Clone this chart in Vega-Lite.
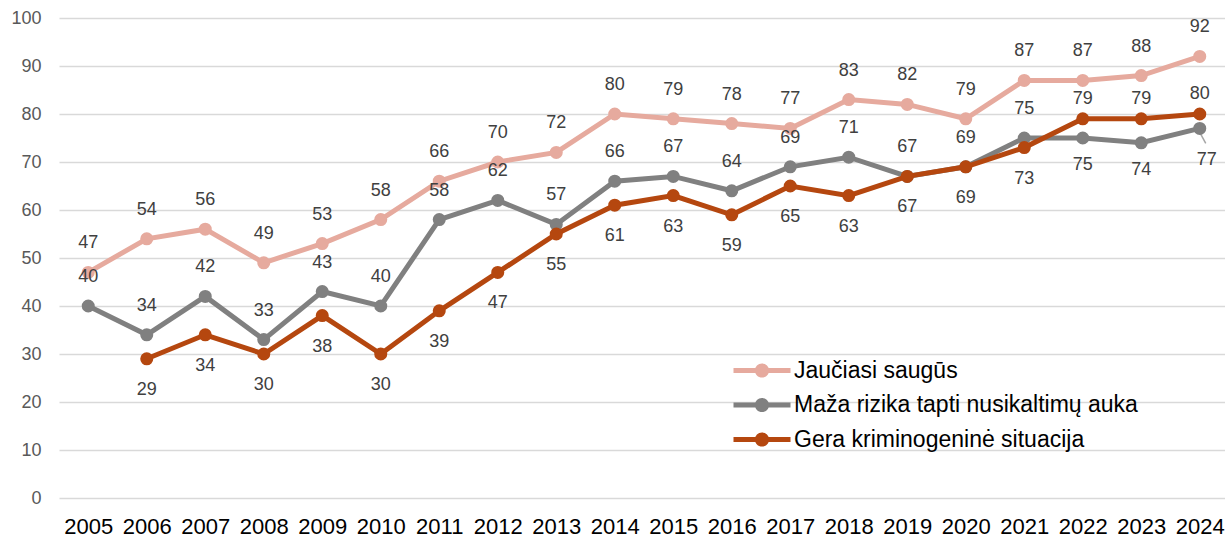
{
  "$schema": "https://vega.github.io/schema/vega-lite/v6.json",
  "width": 1170,
  "height": 480,
  "autosize": "none",
  "padding": {"left": 59, "top": 18, "right": 0, "bottom": 39},
  "background": "white",
  "config": {
    "view": {"stroke": null},
    "font": "Liberation Sans",
    "axis": {"labelFont": "Liberation Sans", "title": null},
    "legend": {"labelFont": "Liberation Sans"}
  },
  "data": {
    "values": [
      {"year": 2005, "series": "Jaučiasi saugūs", "value": 47},
      {"year": 2006, "series": "Jaučiasi saugūs", "value": 54},
      {"year": 2007, "series": "Jaučiasi saugūs", "value": 56},
      {"year": 2008, "series": "Jaučiasi saugūs", "value": 49},
      {"year": 2009, "series": "Jaučiasi saugūs", "value": 53},
      {"year": 2010, "series": "Jaučiasi saugūs", "value": 58},
      {"year": 2011, "series": "Jaučiasi saugūs", "value": 66},
      {"year": 2012, "series": "Jaučiasi saugūs", "value": 70},
      {"year": 2013, "series": "Jaučiasi saugūs", "value": 72},
      {"year": 2014, "series": "Jaučiasi saugūs", "value": 80},
      {"year": 2015, "series": "Jaučiasi saugūs", "value": 79},
      {"year": 2016, "series": "Jaučiasi saugūs", "value": 78},
      {"year": 2017, "series": "Jaučiasi saugūs", "value": 77},
      {"year": 2018, "series": "Jaučiasi saugūs", "value": 83},
      {"year": 2019, "series": "Jaučiasi saugūs", "value": 82},
      {"year": 2020, "series": "Jaučiasi saugūs", "value": 79},
      {"year": 2021, "series": "Jaučiasi saugūs", "value": 87},
      {"year": 2022, "series": "Jaučiasi saugūs", "value": 87},
      {"year": 2023, "series": "Jaučiasi saugūs", "value": 88},
      {"year": 2024, "series": "Jaučiasi saugūs", "value": 92},
      {"year": 2005, "series": "Maža rizika tapti nusikaltimų auka", "value": 40},
      {"year": 2006, "series": "Maža rizika tapti nusikaltimų auka", "value": 34},
      {"year": 2007, "series": "Maža rizika tapti nusikaltimų auka", "value": 42},
      {"year": 2008, "series": "Maža rizika tapti nusikaltimų auka", "value": 33},
      {"year": 2009, "series": "Maža rizika tapti nusikaltimų auka", "value": 43},
      {"year": 2010, "series": "Maža rizika tapti nusikaltimų auka", "value": 40},
      {"year": 2011, "series": "Maža rizika tapti nusikaltimų auka", "value": 58},
      {"year": 2012, "series": "Maža rizika tapti nusikaltimų auka", "value": 62},
      {"year": 2013, "series": "Maža rizika tapti nusikaltimų auka", "value": 57},
      {"year": 2014, "series": "Maža rizika tapti nusikaltimų auka", "value": 66},
      {"year": 2015, "series": "Maža rizika tapti nusikaltimų auka", "value": 67},
      {"year": 2016, "series": "Maža rizika tapti nusikaltimų auka", "value": 64},
      {"year": 2017, "series": "Maža rizika tapti nusikaltimų auka", "value": 69},
      {"year": 2018, "series": "Maža rizika tapti nusikaltimų auka", "value": 71},
      {"year": 2019, "series": "Maža rizika tapti nusikaltimų auka", "value": 67},
      {"year": 2020, "series": "Maža rizika tapti nusikaltimų auka", "value": 69},
      {"year": 2021, "series": "Maža rizika tapti nusikaltimų auka", "value": 75},
      {"year": 2022, "series": "Maža rizika tapti nusikaltimų auka", "value": 75},
      {"year": 2023, "series": "Maža rizika tapti nusikaltimų auka", "value": 74},
      {"year": 2024, "series": "Maža rizika tapti nusikaltimų auka", "value": 77},
      {"year": 2006, "series": "Gera kriminogeninė situacija", "value": 29},
      {"year": 2007, "series": "Gera kriminogeninė situacija", "value": 34},
      {"year": 2008, "series": "Gera kriminogeninė situacija", "value": 30},
      {"year": 2009, "series": "Gera kriminogeninė situacija", "value": 38},
      {"year": 2010, "series": "Gera kriminogeninė situacija", "value": 30},
      {"year": 2011, "series": "Gera kriminogeninė situacija", "value": 39},
      {"year": 2012, "series": "Gera kriminogeninė situacija", "value": 47},
      {"year": 2013, "series": "Gera kriminogeninė situacija", "value": 55},
      {"year": 2014, "series": "Gera kriminogeninė situacija", "value": 61},
      {"year": 2015, "series": "Gera kriminogeninė situacija", "value": 63},
      {"year": 2016, "series": "Gera kriminogeninė situacija", "value": 59},
      {"year": 2017, "series": "Gera kriminogeninė situacija", "value": 65},
      {"year": 2018, "series": "Gera kriminogeninė situacija", "value": 63},
      {"year": 2019, "series": "Gera kriminogeninė situacija", "value": 67},
      {"year": 2020, "series": "Gera kriminogeninė situacija", "value": 69},
      {"year": 2021, "series": "Gera kriminogeninė situacija", "value": 73},
      {"year": 2022, "series": "Gera kriminogeninė situacija", "value": 79},
      {"year": 2023, "series": "Gera kriminogeninė situacija", "value": 79},
      {"year": 2024, "series": "Gera kriminogeninė situacija", "value": 80}
    ]
  },
  "encoding": {
    "x": {
      "field": "year", "type": "ordinal",
      "scale": {"type": "point", "padding": 0.5},
      "axis": {"labelAngle": 0, "labelFontSize": 22, "labelColor": "#000000", "labelPadding": 18, "ticks": false, "domain": false, "grid": false}
    },
    "y": {
      "field": "value", "type": "quantitative",
      "scale": {"domain": [0, 100], "nice": false, "zero": true},
      "axis": {"values": [0, 10, 20, 30, 40, 50, 60, 70, 80, 90, 100], "labelFontSize": 18, "labelColor": "#595959", "labelPadding": 18, "ticks": false, "domain": false, "grid": true, "gridColor": "#D9D9D9", "gridWidth": 1.5}
    }
  },
  "layer": [
    {
      "transform": [{"filter": "datum.series == 'Maža rizika tapti nusikaltimų auka' && datum.year == 2024"}],
      "mark": {"type": "rule", "color": "#A6A6A6", "strokeWidth": 1.5, "yOffset": 4, "x2Offset": 6, "y2Offset": 15},
      "encoding": {"x2": {"field": "year"}, "y2": {"field": "value"}}
    },
    {
      "transform": [{"filter": "datum.series == 'Jaučiasi saugūs'"}],
      "mark": {"type": "line", "strokeWidth": 5, "point": {"filled": true, "size": 170, "opacity": 1}},
      "encoding": {
        "color": {
          "field": "series", "type": "nominal",
          "scale": {"domain": ["Jaučiasi saugūs", "Maža rizika tapti nusikaltimų auka", "Gera kriminogeninė situacija"], "range": ["#E6AA9E", "#808080", "#B5470F"]},
          "legend": {
            "title": null, "orient": "none", "legendX": 691.5, "legendY": 341,
            "symbolType": "M-2.85,-0.25H2.85V0.25H-2.85Z M0.71,0A0.71,0.71,0,1,1,-0.71,0A0.71,0.71,0,1,1,0.71,0Z",
            "symbolSize": 400, "symbolStrokeWidth": 0, "symbolOpacity": 1,
            "labelFontSize": 23, "labelColor": "#000000", "labelOffset": 20.5, "labelLimit": 600, "rowPadding": 10.5,
            "encode": {"symbols": {"update": {"fill": {"scale": "color", "field": "value"}, "opacity": {"value": 1}}}}
          }
        }
      }
    },
    {
      "transform": [{"filter": "datum.series == 'Maža rizika tapti nusikaltimų auka'"}],
      "mark": {"type": "line", "strokeWidth": 5, "point": {"filled": true, "size": 170, "opacity": 1}},
      "encoding": {"color": {"field": "series", "type": "nominal"}}
    },
    {
      "transform": [{"filter": "datum.series == 'Gera kriminogeninė situacija'"}],
      "mark": {"type": "line", "strokeWidth": 5, "point": {"filled": true, "size": 170, "opacity": 1}},
      "encoding": {"color": {"field": "series", "type": "nominal"}}
    },
    {
      "transform": [{"filter": "datum.series == 'Jaučiasi saugūs'"}],
      "mark": {"type": "text", "dy": -29, "fontSize": 18, "color": "#404040", "baseline": "middle"},
      "encoding": {"text": {"field": "value", "type": "quantitative"}}
    },
    {
      "transform": [{"filter": "datum.series == 'Maža rizika tapti nusikaltimų auka' && datum.year <= 2021"}],
      "mark": {"type": "text", "dy": -29, "fontSize": 18, "color": "#404040", "baseline": "middle"},
      "encoding": {"text": {"field": "value", "type": "quantitative"}}
    },
    {
      "transform": [{"filter": "datum.series == 'Maža rizika tapti nusikaltimų auka' && (datum.year == 2022 || datum.year == 2023)"}],
      "mark": {"type": "text", "dy": 27, "fontSize": 18, "color": "#404040", "baseline": "middle"},
      "encoding": {"text": {"field": "value", "type": "quantitative"}}
    },
    {
      "transform": [{"filter": "datum.series == 'Maža rizika tapti nusikaltimų auka' && datum.year == 2024"}],
      "mark": {"type": "text", "dx": 7, "dy": 32, "fontSize": 18, "color": "#404040", "baseline": "middle"},
      "encoding": {"text": {"field": "value", "type": "quantitative"}}
    },
    {
      "transform": [{"filter": "datum.series == 'Gera kriminogeninė situacija' && datum.year <= 2021"}],
      "mark": {"type": "text", "dy": 31, "fontSize": 18, "color": "#404040", "baseline": "middle"},
      "encoding": {"text": {"field": "value", "type": "quantitative"}}
    },
    {
      "transform": [{"filter": "datum.series == 'Gera kriminogeninė situacija' && datum.year >= 2022"}],
      "mark": {"type": "text", "dy": -20, "fontSize": 18, "color": "#404040", "baseline": "middle"},
      "encoding": {"text": {"field": "value", "type": "quantitative"}}
    }
  ]
}
